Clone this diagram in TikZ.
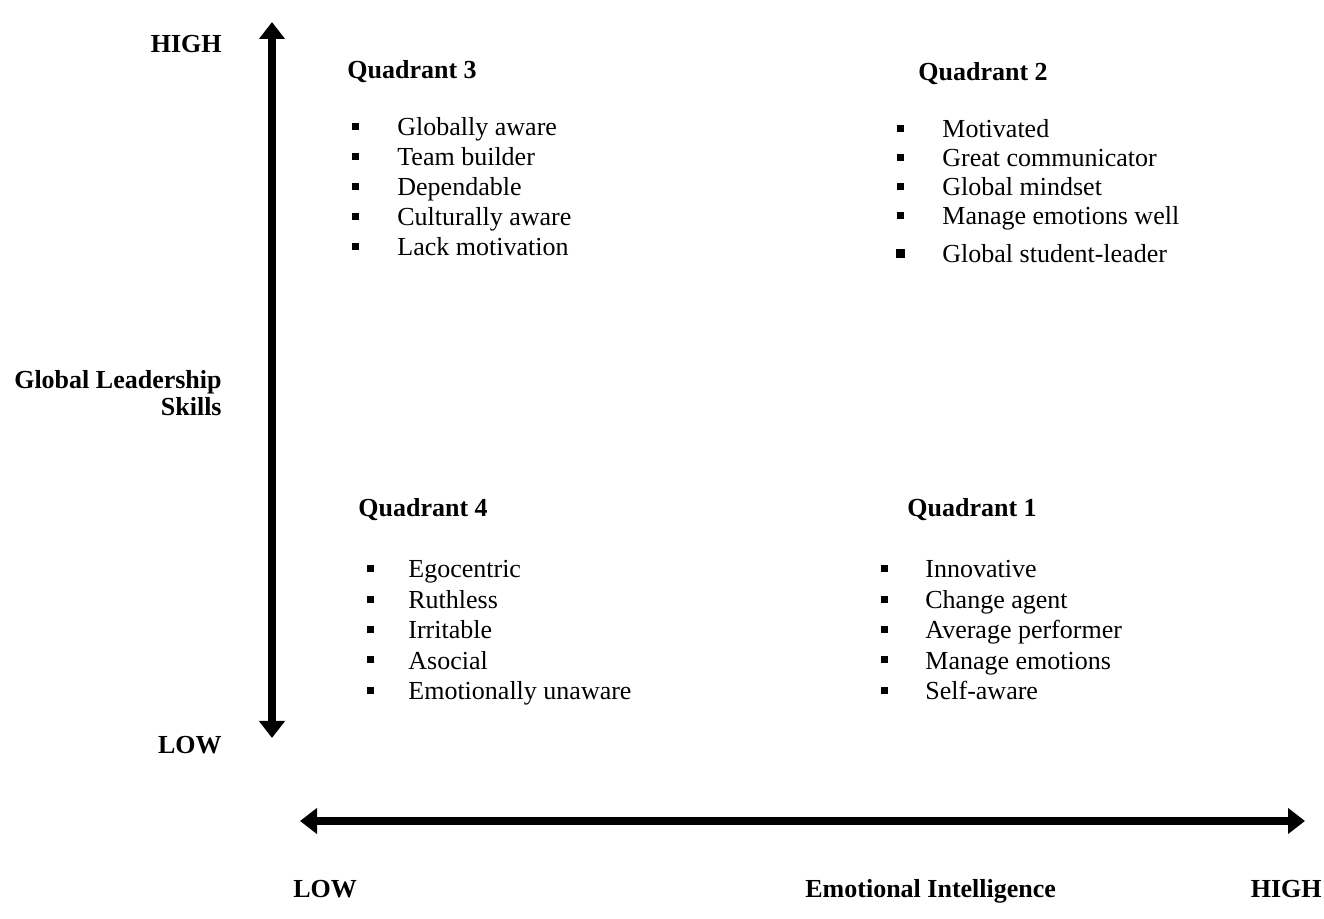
\documentclass[tikz,border=0pt]{standalone}
\usepackage{fontspec}
\setmainfont{Liberation Serif}
\usetikzlibrary{arrows.meta}
\begin{document}
\begin{tikzpicture}[x=.5pt, y=-.5pt, font=\fontsize{13}{15}\selectfont, line join=round,
		txt/.style={inner sep=0pt, anchor=base west},
		hd/.style={inner sep=0pt, anchor=base west, font=\fontsize{13}{15}\selectfont\bfseries},
		lbl/.style={inner sep=0pt, anchor=base east, font=\fontsize{13}{15}\selectfont\bfseries},
		bul/.style={fill, inner sep=0pt, minimum size=3.5pt},
		axis/.style={line width=4pt, {Triangle[length=8.5pt,width=12.5pt]}-{Triangle[length=8.5pt,width=12.5pt]}}]
	\useasboundingbox (0,0) rectangle (1324,919);
	\def\dy{9}
	% axes
	\coordinate (vtop) at (272,22); \coordinate (vbot) at (272,738);
	\coordinate (hleft) at (300,821); \coordinate (hright) at (1305,821);
	\draw[axis] (vtop)--(vbot);
	\draw[axis] (hleft)--(hright);
	% axis labels
	\node[lbl] (yhigh) at (222,44+\dy) {HIGH};
	\node[lbl] (yname1) at (222,380+\dy) {Global Leadership};
	\node[lbl] (yname2) at (222,407+\dy) {Skills};
	\node[lbl] (ylow) at (222,745+\dy) {LOW};
	\node[hd] (xlow) at (293,888+\dy) {LOW};
	\node[hd] (xname) at (805,888+\dy) {Emotional Intelligence};
	\node[lbl] (xhigh) at (1322,888+\dy) {HIGH};
	% quadrant 3
	\node[hd] (q3) at (347,70+\dy) {Quadrant 3};
	\foreach \t/\y [count=\i] in {Globally aware/127, Team builder/157, Dependable/187, Culturally aware/217, Lack motivation/247}{
		\node[bul] (q3b\i) at (355,\y) {};
		\node[txt] (q3t\i) at (397,\y+\dy) {\t};
	}
	% quadrant 2
	\node[hd] (q2) at (918,72+\dy) {Quadrant 2};
	\foreach \t/\y [count=\i] in {Motivated/129, Great communicator/158, Global mindset/187, Manage emotions well/216}{
		\node[bul] (q2b\i) at (900,\y) {};
		\node[txt] (q2t\i) at (942,\y+\dy) {\t};
	}
	\node[bul, minimum size=4.5pt] (q2b5) at (900,254) {};
	\node[txt] (q2t5) at (942,254+\dy) {Global student-leader};
	% quadrant 4
	\node[hd] (q4) at (358,508+\dy) {Quadrant 4};
	\foreach \t/\y [count=\i] in {Egocentric/569, Ruthless/600, Irritable/630, Asocial/660, Emotionally unaware/691}{
		\node[bul] (q4b\i) at (370,\y) {};
		\node[txt] (q4t\i) at (408,\y+\dy) {\t};
	}
	% quadrant 1
	\node[hd] (q1) at (907,508+\dy) {Quadrant 1};
	\foreach \t/\y [count=\i] in {Innovative/569, Change agent/600, Average performer/630, Manage emotions/660, Self-aware/691}{
		\node[bul] (q1b\i) at (884,\y) {};
		\node[txt] (q1t\i) at (925,\y+\dy) {\t};
	}
\end{tikzpicture}
\end{document}
